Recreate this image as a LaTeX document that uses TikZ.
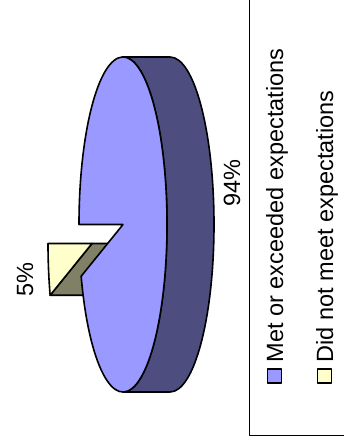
\documentclass[tikz,border=0pt]{standalone}
\usepackage{fontspec}
\setmainfont{Liberation Sans}
\usetikzlibrary{positioning}
\definecolor{metblue}{HTML}{9999FF}
\definecolor{metrim}{HTML}{4D4D80}
\definecolor{notyellow}{HTML}{FFFFCC}
\definecolor{notolive}{HTML}{808066}

\begin{document}
\begin{tikzpicture}[x=1pt, y=1pt, line width=1.6pt, line join=round,
  lbl/.style={rotate=90, anchor=base west, inner sep=0pt, font=\fontsize{23.5}{28}\selectfont},
  key/.style={draw, line width=1.4pt, minimum size=14pt, inner sep=0pt}]
  \useasboundingbox (0,0) rectangle (343,444);

  \coordinate (ctr) at (123,219.5);
  \coordinate (sl) at (92,200.5);
  \coordinate (slb) at (139,200.5);

  \filldraw[fill=notolive] (sl) -- ++(198:44pt and 167.5pt) -- ++(47,0) -- (slb) -- cycle;
  \filldraw[fill=metrim] (123,387) -- (170,387)
    arc[start angle=90, end angle=-90, x radius=44pt, y radius=167.5pt] -- (123,52)
    arc[start angle=-90, end angle=90, x radius=44pt, y radius=167.5pt];
  \filldraw[fill=metblue] (ctr) -- +(198:44pt and 167.5pt)
    arc[start angle=198, end angle=540, x radius=44pt, y radius=167.5pt] -- cycle;
  \filldraw[fill=notyellow] (sl) -- +(180:44pt and 167.5pt)
    arc[start angle=180, end angle=198, x radius=44pt, y radius=167.5pt] -- cycle;

  \draw (240,237) node[lbl] (pmet) {94\%};
  \draw (33,147) node[lbl] (pnot) {5\%};

  \draw[line width=0.8pt] (249.3,450) -- (249.3,9) -- (350,9);
  \draw (274.5,68) node[key, fill=metblue] (kmet) {};
  \draw (283,81) node[lbl] (tmet) {Met or exceeded expectations};
  \draw (324.5,68) node[key, fill=notyellow] (knot) {};
  \draw (333,81) node[lbl] (tnot) {Did not meet expectations};
\end{tikzpicture}
\end{document}
